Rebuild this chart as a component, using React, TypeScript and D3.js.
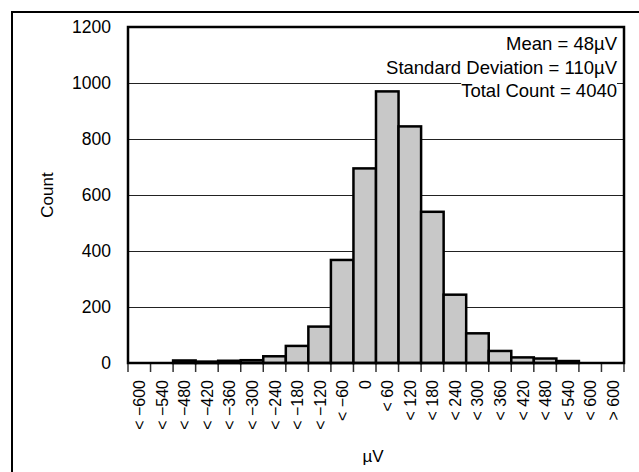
import React, { useEffect, useRef } from "react";
import * as d3 from "d3";

const binLabels: string[] = [
  "< −600", "< −540", "< −480", "< −420", "< −360", "< −300", "< −240", "< −180",
  "< −120", "< −60", "0", "< 60", "< 120", "< 180", "< 240", "< 300", "< 360",
  "< 420", "< 480", "< 540", "< 600", "> 600",
];
const binCounts: number[] = [
  0, 0, 9, 5, 8, 10, 24, 61, 130, 368, 695, 970, 845, 540, 244, 106, 43, 20, 16, 7, 0, 0,
];
const yTicks: number[] = [0, 200, 400, 600, 800, 1000, 1200];
const statLines: string[] = [
  "Mean = 48µV",
  "Standard Deviation = 110µV",
  "Total Count = 4040",
];

const W = 639;
const H = 472;
const FONT = "'Liberation Sans', Arial, Helvetica, sans-serif";

export default function App() {
  const ref = useRef<SVGSVGElement>(null);

  useEffect(() => {
    const svg = d3.select(ref.current);
    svg.selectAll("*").remove();

    const left = 128, right = 624, top = 27, bottom = 363;
    const x = d3.scaleBand<string>().domain(binLabels).range([left, right]).padding(0);
    const y = d3.scaleLinear().domain([0, 1200]).range([bottom, top]);

    svg.append("rect").attr("width", W).attr("height", H).attr("fill", "#fff");

    // outer frame (top & left visible)
    svg.append("rect")
      .attr("x", 12).attr("y", 12).attr("width", W + 20).attr("height", H + 20)
      .attr("fill", "none").attr("stroke", "#000").attr("stroke-width", 2);

    // gridlines
    svg.append("g").selectAll("line")
      .data(yTicks.filter((t) => t > 0 && t < 1200))
      .join("line")
      .attr("x1", left).attr("x2", right)
      .attr("y1", (d) => Math.round(y(d)) + 0.5).attr("y2", (d) => Math.round(y(d)) + 0.5)
      .attr("stroke", "#222").attr("stroke-width", 1);

    // ticks at bin edges
    const edges = binLabels.map((l) => x(l) as number).concat([right]);
    svg.append("g").selectAll("line")
      .data(edges)
      .join("line")
      .attr("x1", (d) => d).attr("x2", (d) => d)
      .attr("y1", bottom).attr("y2", bottom + 9)
      .attr("stroke", "#333").attr("stroke-width", 1.5);

    // bars
    svg.append("g").selectAll("rect")
      .data(binLabels.map((l, i) => ({ l, v: binCounts[i] })).filter((d) => d.v > 0))
      .join("rect")
      .attr("x", (d) => x(d.l) as number)
      .attr("width", x.bandwidth())
      .attr("y", (d) => y(d.v))
      .attr("height", (d) => bottom - y(d.v))
      .attr("fill", "#c8c8c8")
      .attr("stroke", "#000")
      .attr("stroke-width", 2.5);

    // plot frame
    svg.append("rect")
      .attr("x", left).attr("y", top).attr("width", right - left).attr("height", bottom - top)
      .attr("fill", "none").attr("stroke", "#000").attr("stroke-width", 2.5);

    // y tick labels
    svg.append("g").selectAll("text")
      .data(yTicks)
      .join("text")
      .attr("x", 111).attr("y", (d) => y(d))
      .attr("dy", "0.36em")
      .attr("text-anchor", "end")
      .attr("font-family", FONT).attr("font-size", 17.5)
      .text((d) => String(d));

    // x tick labels
    svg.append("g").selectAll("text")
      .data(binLabels)
      .join("text")
      .attr("transform", (d) => `translate(${(x(d) as number) + x.bandwidth() / 2 + 6},380) rotate(-90)`)
      .attr("text-anchor", "end")
      .attr("font-family", FONT).attr("font-size", 16)
      .text((d) => d);

    // axis titles
    svg.append("text")
      .attr("x", (left + right) / 2 - 3).attr("y", 462)
      .attr("text-anchor", "middle")
      .attr("font-family", FONT).attr("font-size", 17)
      .text("µV");
    svg.append("text")
      .attr("transform", `translate(53,${(top + bottom) / 2}) rotate(-90)`)
      .attr("text-anchor", "middle")
      .attr("font-family", FONT).attr("font-size", 17)
      .text("Count");

    // stats annotation with white backgrounds
    const g = svg.append("g");
    statLines.forEach((s, i) => {
      const bg = g.append("rect").attr("fill", "#fff");
      const t = g.append("text")
        .attr("x", 617).attr("y", 50 + i * 23.5)
        .attr("text-anchor", "end")
        .attr("font-family", FONT).attr("font-size", 18.5)
        .text(s);
      const bb = (t.node() as SVGTextElement).getBBox();
      bg.attr("x", bb.x).attr("y", bb.y).attr("width", bb.width).attr("height", bb.height);
    });
  }, []);

  return (
    <svg
      ref={ref}
      width={W}
      height={H}
      style={{ position: "absolute", left: 0, top: 0 }}
    />
  );
}
